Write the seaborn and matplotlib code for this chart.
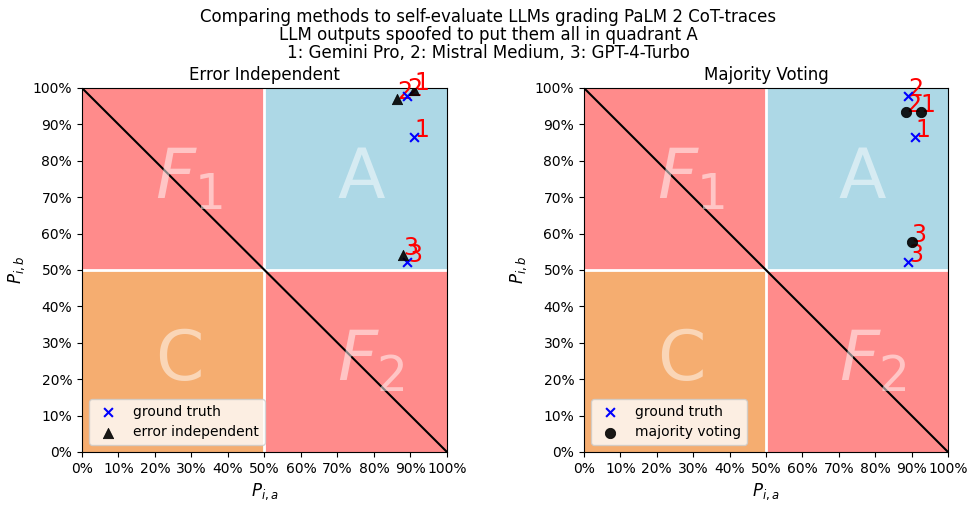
import numpy as np
import pandas as pd
import seaborn as sns
import matplotlib.pyplot as plt
from matplotlib.ticker import PercentFormatter

# model ids: 1 Gemini Pro, 2 Mistral Medium, 3 GPT-4-Turbo
models = ["1", "2", "3"]

# ground truth (P_ia, P_ib)
gt_a = [0.91, 0.89, 0.89]
gt_b = [0.865, 0.978, 0.522]

# error independent estimates
ei_a = [0.91, 0.863, 0.88]
ei_b = [0.995, 0.97, 0.54]

# majority voting estimates
mv_a = [0.925, 0.885, 0.90]
mv_b = [0.934, 0.934, 0.577]

sns.set_style("white", rc={"text.color": "black", "axes.labelcolor": "black",
                           "xtick.color": "black", "ytick.color": "black",
                           "axes.edgecolor": "black"})
plt.rcParams['font.family'] = ['DejaVu Sans']

fig = plt.figure(figsize=(9.77, 5.11), dpi=100)
ax1 = fig.add_axes([0.0839, 0.1155, 0.3736, 0.7123])
ax2 = fig.add_axes([0.5977, 0.1155, 0.3726, 0.7123])


def background(ax):
    ax.fill_between([0, 0.5], 0.5, 1, color="#ff8b8b", lw=0)
    ax.fill_between([0.5, 1], 0, 0.5, color="#ff8b8b", lw=0)
    ax.fill_between([0.5, 1], 0.5, 1, color="lightblue", lw=0)
    ax.fill_between([0, 0.5], 0, 0.5, color="sandybrown", alpha=0.9, lw=0)
    ax.axvline(0.5, color="white", lw=2)
    ax.axhline(0.5, color="white", lw=2)
    ax.plot([0, 1], [1, 0], color="black", lw=1.5)
    for txt, x, y in [("A", 0.7, 0.75), ("$F_1$", 0.2, 0.75),
                      ("$F_2$", 0.7, 0.25), ("C", 0.2, 0.25)]:
        ax.text(x, y, txt, fontsize=50, color="white", alpha=0.5,
                ha="left", va="center")


def labels(ax, xs, ys):
    for m, x, y in zip(models, xs, ys):
        ax.annotate(m, (x, y), xytext=(0, 0), textcoords="offset points",
                    fontsize=17, color="red")


for ax, ex, ey, name, marker, title in [
        (ax1, ei_a, ei_b, "error independent", "^", "Error Independent"),
        (ax2, mv_a, mv_b, "majority voting", "o", "Majority Voting")]:
    background(ax)
    sns.scatterplot(x=gt_a, y=gt_b, marker="x", color="blue", s=40,
                    linewidth=1.5, label="ground truth", ax=ax, zorder=5)
    sns.scatterplot(x=ex, y=ey, marker=marker, color="black", s=55,
                    edgecolor="black", alpha=0.9, label=name, ax=ax, zorder=5)
    labels(ax, gt_a, gt_b)
    labels(ax, ex, ey)
    ax.set_xlim(0, 1)
    ax.set_ylim(0, 1)
    ax.set_xticks(np.linspace(0, 1, 11))
    ax.set_yticks(np.linspace(0, 1, 11))
    ax.xaxis.set_major_formatter(PercentFormatter(1.0, decimals=0))
    ax.yaxis.set_major_formatter(PercentFormatter(1.0, decimals=0))
    ax.tick_params(axis="both", which="major", length=3.5, width=0.8,
                   bottom=True, left=True, labelsize=10)
    for sp in ax.spines.values():
        sp.set_color("black")
        sp.set_linewidth(0.8)
    ax.set_xlabel("$P_{i,a}$", fontsize=12)
    ax.set_ylabel("$P_{i,b}$", fontsize=12)
    ax.set_title(title, fontsize=12)
    ax.legend(loc="lower left", fontsize=10)

fig.suptitle("Comparing methods to self-evaluate LLMs grading PaLM 2 CoT-traces\n"
             "LLM outputs spoofed to put them all in quadrant A\n"
             "1: Gemini Pro, 2: Mistral Medium, 3: GPT-4-Turbo",
             fontsize=12, y=0.985, linespacing=1.0)

fig.savefig("out.png", dpi=100)
